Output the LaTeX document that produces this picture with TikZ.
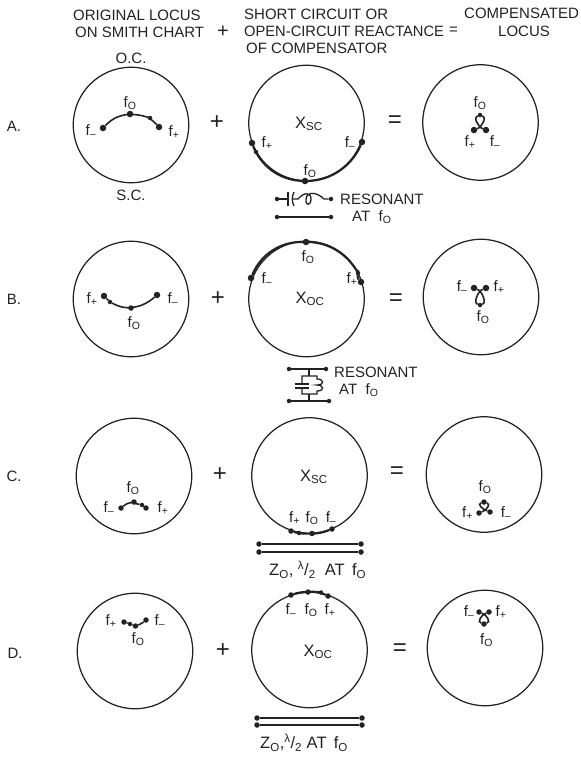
\documentclass[tikz,border=0pt]{standalone}
\usepackage{fontspec}
\setmainfont{Liberation Sans}
\definecolor{ink}{HTML}{222222}
\newcommand{\fz}{f\textsubscript{O}}
\newcommand{\fp}{f\textsubscript{+}}
\newcommand{\fm}{f\textsubscript{--}}
\newcommand{\knot}[4]{\draw[locus](#1).. controls +(8,#4*-3) and +(7,#4*2) ..(#2).. controls +(-7,#4*2) and +(-8,#4*-3) ..(#3);}
\tikzset{chart/.style={draw=ink,circle,line width=1.25pt,minimum size=115.5pt,inner sep=0pt}}
\tikzset{pt/.style={fill=ink,circle,inner sep=0pt,minimum size=6.5pt}}
\tikzset{pts/.style={pt,minimum size=5.5pt}}
\tikzset{tick/.style={fill=ink,circle,inner sep=0pt,minimum size=4.5pt}}
\tikzset{lab/.style={text=ink,inner sep=0pt,font=\fontsize{15}{17}\selectfont}}
\tikzset{big/.style={text=ink,inner sep=0pt,font=\fontsize{16.5}{18}\selectfont}}
\tikzset{sign/.style={text=ink,inner sep=0pt,font=\fontsize{24}{24}\selectfont}}
\tikzset{head/.style={text=ink,inner sep=0pt,anchor=west,font=\fontsize{15}{17}\selectfont}}
\tikzset{locus/.style={draw=ink,line width=1.6pt}}
\tikzset{rim/.style={draw=ink,line width=2.2pt,looseness=.95}}
\tikzset{wire/.style={draw=ink,line width=1.3pt}}
\begin{document}
\begin{tikzpicture}[x=1pt,y=-1pt]
\useasboundingbox(0,0)rectangle(581,758);
% heading
\node(h1)[head]at(73,15){ORIGINAL LOCUS};\node(h2)[head]at(75,32){ON SMITH CHART};\node(h3)[head,font=\fontsize{20}{20}\selectfont]at(217,32){+};
\node(h4)[head]at(244,14){SHORT CIRCUIT OR};\node(h5)[head,xscale=.98]at(244,31){OPEN-CIRCUIT REACTANCE};\node(h6)[head]at(449,31){=};
\node(h7)[head]at(246,48){OF COMPENSATOR};\node(h8)[head]at(464,13){COMPENSATED};\node(h9)[head]at(498,31){LOCUS};
\node(oc)[lab]at(131,58){O.C.};\node(sc)[lab]at(131,195){S.C.};
\node(rA)[lab]at(14,126){A.};\node(rB)[lab]at(14,299){B.};\node(rC)[lab]at(14,476){C.};\node(rD)[lab]at(15,653){D.};
% row A
\node(cAl)[chart]at(131,125){};\node(cAm)[chart]at(306.5,123){};\node(cAr)[chart]at(480.5,122.5){};
\node(plA)[sign]at(217,123){+};\node(eqA)[sign]at(395,122){=};
\node(Al1)[pt]at(103,128){};\node(Al2)[pt]at(130,114){};\node(Al3)[tick]at(150,118){};\node(Al4)[pt]at(159,127){};
\draw[locus](Al1)to[bend left=18](Al2)to[bend left=10](Al3)to[bend left=6](Al4);
\node[lab]at(91,131){\fm};\node[lab]at(130,103){\fz};\node[lab]at(174,132){\fp};
\node(Am1)[pt]at(252,143){};\node(Am2)[tick]at(256,152){};\node(Am3)[pt]at(305,181){};\node(Am4)[pt]at(362,142){};
\draw[rim](Am1)to[bend right=5](Am2)to[bend right=30](Am3)to[bend right=35](Am4);
\node[big]at(309,124){X\textsubscript{SC}};\node[lab]at(267,143){\fp};\node[lab]at(350,143){\fm};\node[lab]at(310,171){\fz};
\node(Ar1)[tick]at(480,115){};\node(Ar2)[pt]at(474,130){};\node(Ar3)[pt]at(486,130){};
\knot{Ar2}{Ar1}{Ar3}{1}
\node[lab]at(480,103){\fz};\node[lab]at(470,142){\fp};\node[lab]at(495,142){\fm};
% series compensator
\node(sa)[tick]at(277,199){};\node(sb)[tick]at(331,199){};\node(sc1)[tick]at(277,217){};\node(sc2)[tick]at(331,217){};
\coordinate(sp)at(288,199);\coordinate(sq)at(293,199);\coordinate(sr)at(298,199);\coordinate(ss)at(324,199);
\draw[wire](sa)--(sp);\draw[wire](288,192)--(288,206);\draw[wire](294,192)to[bend right=25](294,206);
\draw[wire](sq)--(sr).. controls(304,192)and(311,192)..(311,199).. controls(311,206)and(305,206)..(306,199).. controls(307,191)and(317,192)..(ss)--(sb);
\draw[wire](sc1)--(sc2);
\node[head]at(340,199){RESONANT};\node[head]at(352,217){AT\ \ \fz};
% row B
\node(cBl)[chart]at(131,299){};\node(cBm)[chart]at(306.5,299){};\node(cBr)[chart]at(481,297){};
\node(plB)[sign]at(218,299){+};\node(eqB)[sign]at(396,300){=};
\node(Bl1)[pt]at(104,296){};\node(Bl2)[tick]at(110,302){};\node(Bl3)[pts]at(131,308){};\node(Bl4)[pt]at(157,295){};
\draw[locus](Bl1)to(Bl2)to[bend right=12](Bl3)to[bend right=18](Bl4);
\node[lab]at(92,299){\fp};\node[lab]at(173,299){\fm};\node[lab]at(134,323){\fz};
\node(Bm1)[pt]at(251,278){};\node(Bm2)[pt]at(306,242){};\node(Bm3)[tick]at(358,273){};\node(Bm4)[pt]at(361,282){};
\draw[rim](Bm1)to[bend left=34](Bm2)to[bend left=31](Bm3)to(Bm4);
\node[lab]at(308,257){\fz};\node[lab]at(267,279){\fm};\node[lab]at(352,279){\fp};\node[big]at(310,299){X\textsubscript{OC}};
\node(Br1)[pt]at(474,288){};\node(Br2)[pt]at(486,288){};\node(Br3)[tick]at(480,305){};
\knot{Br1}{Br3}{Br2}{-1}
\node[lab]at(462,287){\fm};\node[lab]at(499,287){\fp};\node[lab]at(483,317){\fz};
% shunt compensator
\node(pa)[tick]at(289,369){};\node(pb)[tick]at(326,369){};\node(pc)[tick]at(289,401){};\node(pd)[tick]at(329,401){};
\coordinate(pt1)at(309,369);\coordinate(pt2)at(309,376);\coordinate(pb1)at(309,401);\coordinate(pb2)at(309,394);
\draw[wire](pa)--(pb);\draw[wire](pc)--(pd);\draw[wire](pt1)--(pt2);\draw[wire](pb1)--(pb2);
\draw[wire](302,384)--(302,376)--(317,376)--(317,379).. controls(324,379)and(325,385)..(317,385).. controls(324,385)and(325,391)..(317,391)--(317,394)--(302,394)--(302,388);
\draw[wire](295,384)--(309,384);\draw[wire](295,388)--(309,388);
\node[head]at(334,372){RESONANT};\node[head]at(339,390){AT\ \ \fz};
% row C
\node(cCl)[chart]at(134,476){};\node(cCm)[chart]at(309.5,475.5){};\node(cCr)[chart]at(484,474.5){};
\node(plC)[sign]at(220,475){+};\node(eqC)[sign]at(397,473){=};
\node(Cl1)[pts]at(121,508){};\node(Cl2)[pts]at(134,502){};\node(Cl3)[tick]at(142,505){};\node(Cl4)[pts]at(146,508){};
\draw[locus](Cl1)to[bend left=15](Cl2)to(Cl3)to(Cl4);
\node[lab]at(133,488){\fz};\node[lab]at(109,508){\fm};\node[lab]at(163,508){\fp};
\node(Cm1)[pts]at(291,531){};\node(Cm2)[tick]at(299,533){};\node(Cm3)[pts]at(312,533.5){};\node(Cm4)[pts]at(332,529){};
\draw[rim](Cm1)to[bend right=4](Cm2)to[bend right=6](Cm3)to[bend right=11](Cm4);
\node[big]at(314,477){X\textsubscript{SC}};\node[lab]at(294.5,518){\fp};\node[lab]at(312,518){\fz};\node[lab]at(331,518){\fm};
\node(Cr1)[pts]at(484,502){};\node(Cr2)[pts]at(479,513){};\node(Cr3)[pts]at(490,512){};
\knot{Cr2}{Cr1}{Cr3}{1}
\node[lab]at(485,487){\fz};\node[lab]at(467.5,513){\fp};\node[lab]at(506,513){\fm};
% half wave line, row C
\node(la)[pts]at(259,544){};\node(lb)[pts]at(361,544){};\node(lc)[pts]at(259,552){};\node(ld)[pts]at(361,552){};
\draw[wire](la)--(lb);\draw[wire](lc)--(ld);
\node[big,anchor=west]at(269,570){Z\textsubscript{O}, \textsuperscript{λ}/\textsubscript{2}\ \ AT\ \,\fz};
% row D
\node(cDl)[chart]at(135,651){};\node(cDm)[chart]at(309.5,650){};\node(cDr)[chart]at(485,648){};
\node(plD)[sign]at(223,651){+};\node(eqD)[sign]at(400,650){=};
\node(Dl1)[pts]at(124,622){};\node(Dl2)[tick]at(130,624){};\node(Dl3)[pts]at(135.5,626){};\node(Dl4)[pts]at(146,620){};
\draw[locus](Dl1)to(Dl2)to(Dl3)to[bend right=12](Dl4);
\node[lab]at(111,621){\fp};\node[lab]at(160,621){\fm};\node[lab]at(138,639){\fz};
\node(Dm1)[pts]at(291,595){};\node(Dm2)[pts]at(308,592){};\node(Dm3)[tick]at(321,592.5){};\node(Dm4)[pts]at(328,596){};
\draw[rim](Dm1)to[bend left=8](Dm2)to[bend left=6](Dm3)to[bend left=4](Dm4);
\node[big]at(318,652){X\textsubscript{OC}};\node[lab]at(291,610){\fm};\node[lab]at(311,610){\fz};\node[lab]at(330,610){\fp};
\node(Dr1)[pts]at(479,612){};\node(Dr2)[pts]at(489,612){};\node(Dr3)[pts]at(484,624){};
\knot{Dr1}{Dr3}{Dr2}{-1}
\node[lab]at(469,612){\fm};\node[lab]at(501,612){\fp};\node[lab]at(486.5,640){\fz};
% half wave line, row D
\node(le)[pts]at(257,718){};\node(lf)[pts]at(362,718){};\node(lg)[pts]at(257,725){};\node(lh)[pts]at(362,725){};
\draw[wire](le)--(lf);\draw[wire](lg)--(lh);
\node[big,anchor=west]at(260,743){Z\textsubscript{O},\textsuperscript{λ}/\textsubscript{2}\ AT\ \,\fz};
\end{tikzpicture}
\end{document}
